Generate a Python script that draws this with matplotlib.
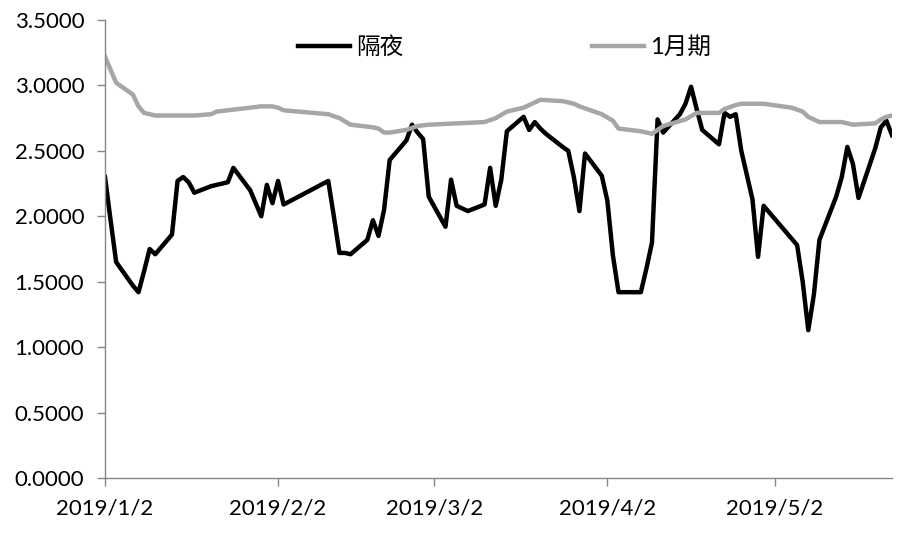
import pandas as pd
import matplotlib
matplotlib.use('Agg')
import matplotlib.pyplot as plt

plt.rcParams['font.family'] = ['Lato', 'Noto Sans CJK SC', 'DejaVu Sans']

# 隔夜 (overnight)
on_dates = ['2019-01-02', '2019-01-03', '2019-01-04', '2019-01-07', '2019-01-08', '2019-01-09',
            '2019-01-10', '2019-01-11', '2019-01-14', '2019-01-15', '2019-01-16', '2019-01-17',
            '2019-01-18', '2019-01-21', '2019-01-22', '2019-01-23', '2019-01-24', '2019-01-25',
            '2019-01-28', '2019-01-29', '2019-01-30', '2019-01-31', '2019-02-01', '2019-02-02',
            '2019-02-03', '2019-02-11', '2019-02-12', '2019-02-13', '2019-02-14', '2019-02-15',
            '2019-02-18', '2019-02-19', '2019-02-20', '2019-02-21', '2019-02-22', '2019-02-25',
            '2019-02-26', '2019-02-27', '2019-02-28', '2019-03-01', '2019-03-04', '2019-03-05',
            '2019-03-06', '2019-03-07', '2019-03-08', '2019-03-11', '2019-03-12', '2019-03-13',
            '2019-03-14', '2019-03-15', '2019-03-18', '2019-03-19', '2019-03-20', '2019-03-21',
            '2019-03-22', '2019-03-25', '2019-03-26', '2019-03-27', '2019-03-28', '2019-03-29',
            '2019-04-01', '2019-04-02', '2019-04-03', '2019-04-04', '2019-04-08', '2019-04-09',
            '2019-04-10', '2019-04-11', '2019-04-12', '2019-04-15', '2019-04-16', '2019-04-17',
            '2019-04-18', '2019-04-19', '2019-04-22', '2019-04-23', '2019-04-24', '2019-04-25',
            '2019-04-26', '2019-04-28', '2019-04-29', '2019-04-30', '2019-05-05', '2019-05-06',
            '2019-05-07', '2019-05-08', '2019-05-09', '2019-05-10', '2019-05-13', '2019-05-14',
            '2019-05-15', '2019-05-16', '2019-05-17', '2019-05-20', '2019-05-21', '2019-05-22',
            '2019-05-23']
on_values = [2.30, 1.97, 1.65, 1.47, 1.42, 1.58,
             1.75, 1.71, 1.86, 2.27, 2.30, 2.26,
             2.18, 2.23, 2.24, 2.25, 2.26, 2.37,
             2.20, 2.10, 2.00, 2.24, 2.10, 2.27,
             2.09, 2.27, 2.00, 1.72, 1.72, 1.71,
             1.82, 1.97, 1.85, 2.05, 2.43, 2.58,
             2.70, 2.64, 2.59, 2.15, 1.92, 2.28,
             2.08, 2.06, 2.04, 2.09, 2.37, 2.08,
             2.28, 2.65, 2.76, 2.66, 2.72, 2.67,
             2.63, 2.53, 2.50, 2.30, 2.04, 2.48,
             2.31, 2.12, 1.70, 1.42, 1.42, 1.60,
             1.80, 2.74, 2.64, 2.78, 2.86, 2.99,
             2.82, 2.66, 2.55, 2.79, 2.76, 2.78,
             2.50, 2.13, 1.69, 2.08, 1.83, 1.78,
             1.50, 1.13, 1.40, 1.82, 2.15, 2.30,
             2.53, 2.40, 2.14, 2.52, 2.68, 2.73,
             2.62]

# 1月期 (one month)
m1_dates = ['2019-01-02', '2019-01-03', '2019-01-04', '2019-01-07', '2019-01-08', '2019-01-09',
            '2019-01-10', '2019-01-11', '2019-01-18', '2019-01-21', '2019-01-22', '2019-01-24',
            '2019-01-28', '2019-01-30', '2019-02-01', '2019-02-02', '2019-02-03', '2019-02-11',
            '2019-02-13', '2019-02-15', '2019-02-19', '2019-02-20', '2019-02-21', '2019-02-22',
            '2019-02-25', '2019-02-27', '2019-03-01', '2019-03-11', '2019-03-13', '2019-03-15',
            '2019-03-18', '2019-03-20', '2019-03-21', '2019-03-25', '2019-03-27', '2019-03-28',
            '2019-04-01', '2019-04-03', '2019-04-04', '2019-04-08', '2019-04-10', '2019-04-11',
            '2019-04-12', '2019-04-16', '2019-04-18', '2019-04-22', '2019-04-23', '2019-04-25',
            '2019-04-26', '2019-04-30', '2019-05-05', '2019-05-07', '2019-05-08', '2019-05-10',
            '2019-05-14', '2019-05-16', '2019-05-20', '2019-05-21', '2019-05-22', '2019-05-23']
m1_values = [3.22, 3.12, 3.02, 2.93, 2.84, 2.79,
             2.78, 2.77, 2.77, 2.78, 2.80, 2.81,
             2.83, 2.84, 2.84, 2.83, 2.81, 2.78,
             2.75, 2.70, 2.68, 2.67, 2.64, 2.64,
             2.66, 2.69, 2.70, 2.72, 2.75, 2.80,
             2.83, 2.87, 2.89, 2.88, 2.86, 2.84,
             2.78, 2.73, 2.67, 2.65, 2.63, 2.66,
             2.69, 2.74, 2.79, 2.79, 2.82, 2.85,
             2.86, 2.86, 2.83, 2.80, 2.76, 2.72,
             2.72, 2.70, 2.71, 2.74, 2.76, 2.77]

tick_dates = ['2019-01-02', '2019-02-02', '2019-03-02', '2019-04-02', '2019-05-02']
tick_labels = ['2019/1/2', '2019/2/2', '2019/3/2', '2019/4/2', '2019/5/2']
y_ticks = [0, 0.5, 1.0, 1.5, 2.0, 2.5, 3.0, 3.5]

fig = plt.figure(figsize=(9, 5.34), dpi=100)
ax = fig.add_axes([105 / 900, 56 / 534, 787 / 900, 458 / 534])

ax.plot(pd.to_datetime(on_dates), on_values, color='black', lw=3.2,
        solid_joinstyle='round', label='隔夜')
ax.plot(pd.to_datetime(m1_dates), m1_values, color='#a6a6a6', lw=3.2,
        solid_joinstyle='round', label='1月期')

ax.set_xlim(pd.Timestamp('2019-01-02'), pd.Timestamp('2019-05-23'))
ax.set_ylim(0, 3.5)
ax.set_xticks(pd.to_datetime(tick_dates))
ax.set_xticklabels(tick_labels)
ax.set_yticks(y_ticks)
ax.set_yticklabels([f'{v:.4f}' for v in y_ticks])

for s in ['top', 'right']:
    ax.spines[s].set_visible(False)
for s in ['left', 'bottom']:
    ax.spines[s].set_color('#868686')
    ax.spines[s].set_linewidth(1.0)
ax.tick_params(axis='both', colors='#868686', labelcolor='black', labelsize=16,
               length=6, width=1.0, direction='out', pad=9)

ax.legend(loc='center', bbox_to_anchor=(0.508, 0.941), ncol=2, frameon=False,
          fontsize=17, handlelength=2.2, handletextpad=0.25, columnspacing=8.0)

fig.savefig('out.png', dpi=100)
